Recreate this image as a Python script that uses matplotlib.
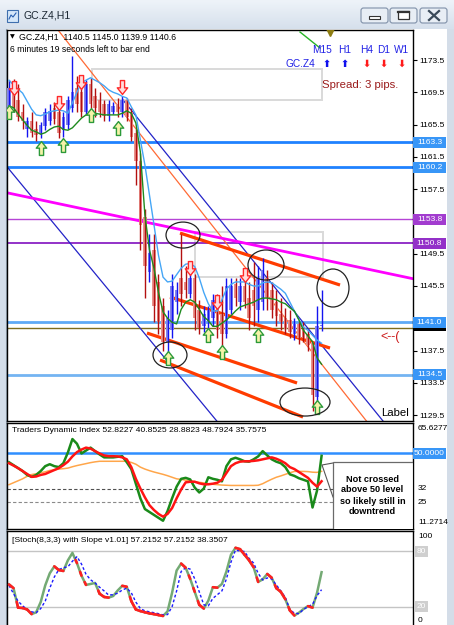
import numpy as np
import matplotlib
matplotlib.use('Agg')
import matplotlib.pyplot as plt
from matplotlib.patches import Rectangle, Ellipse, FancyBboxPatch
from matplotlib.path import Path
from matplotlib import transforms
from matplotlib.colors import LinearSegmentedColormap

plt.rcParams['font.family'] = ['Liberation Sans', 'DejaVu Sans']

# ---------------- data ----------------
opens = [1167.5, 1170.0, 1168.5, 1167.0, 1165.0, 1166.0, 1165.0, 1164.3, 1165.3, 1166.0,
         1167.5, 1167.0, 1164.8, 1165.5, 1167.5, 1170.0, 1169.5, 1167.0, 1170.5, 1169.0,
         1168.5, 1168.0, 1166.6, 1167.0, 1168.0, 1167.0, 1168.5, 1167.0, 1164.5, 1161.0,
         1154.0, 1147.2, 1150.0, 1146.0, 1143.0, 1138.5, 1140.0, 1143.5, 1146.5, 1146.0,
         1144.5, 1146.5, 1142.5, 1140.5, 1141.0, 1141.5, 1143.5, 1142.0, 1139.5, 1142.5,
         1145.8, 1143.5, 1145.5, 1144.0, 1145.0, 1142.5, 1143.5, 1146.5, 1145.0, 1143.5,
         1142.0, 1141.5, 1141.3, 1139.5, 1140.8, 1140.2, 1139.5, 1138.5, 1131.8, 1140.5]
highs = [1171.0, 1171.2, 1170.5, 1168.0, 1166.5, 1167.0, 1166.0, 1165.8, 1167.5, 1168.0,
         1168.3, 1168.0, 1167.0, 1169.0, 1174.0, 1171.5, 1171.0, 1171.0, 1171.3, 1170.0,
         1169.5, 1168.5, 1168.5, 1168.3, 1168.8, 1169.0, 1168.8, 1167.5, 1165.0, 1162.0,
         1155.0, 1152.0, 1152.0, 1147.0, 1144.0, 1142.5, 1147.0, 1146.0, 1152.0, 1148.0,
         1147.0, 1147.0, 1143.8, 1143.0, 1143.0, 1144.5, 1144.5, 1145.5, 1146.5, 1146.5,
         1146.5, 1146.5, 1146.0, 1146.0, 1148.5, 1148.0, 1149.0, 1147.5, 1146.0, 1145.0,
         1144.0, 1142.8, 1142.5, 1141.5, 1141.2, 1141.0, 1140.0, 1138.5, 1143.0, 1145.0]
lows = [1166.5, 1167.0, 1166.0, 1165.0, 1164.0, 1164.0, 1163.5, 1163.8, 1164.8, 1165.5,
        1165.6, 1163.8, 1164.0, 1165.0, 1167.0, 1167.0, 1166.5, 1166.8, 1167.5, 1166.5,
        1166.5, 1166.0, 1166.0, 1166.8, 1166.5, 1166.5, 1166.0, 1163.5, 1158.0, 1150.0,
        1144.0, 1146.0, 1141.0, 1139.5, 1137.5, 1137.2, 1139.0, 1142.0, 1143.0, 1144.0,
        1144.0, 1140.0, 1139.5, 1139.8, 1140.0, 1140.5, 1139.0, 1138.0, 1139.0, 1142.0,
        1143.0, 1142.5, 1142.8, 1140.0, 1140.5, 1141.0, 1142.5, 1142.5, 1141.5, 1140.5,
        1140.0, 1139.5, 1139.0, 1138.8, 1138.3, 1138.5, 1137.5, 1130.0, 1131.2, 1139.9]
closes = [1170.0, 1167.5, 1166.5, 1166.0, 1166.0, 1164.5, 1164.2, 1165.5, 1167.0, 1167.2,
          1166.2, 1164.5, 1166.5, 1168.5, 1169.5, 1168.0, 1167.0, 1170.5, 1168.0, 1167.5,
          1167.0, 1166.6, 1168.0, 1167.8, 1167.0, 1168.5, 1166.5, 1164.0, 1161.0, 1153.0,
          1148.0, 1149.6, 1143.0, 1141.0, 1138.5, 1141.5, 1145.5, 1145.0, 1144.5, 1145.0,
          1146.5, 1141.5, 1140.3, 1142.0, 1142.5, 1143.8, 1140.0, 1139.5, 1145.5, 1145.5,
          1144.0, 1145.5, 1143.5, 1141.5, 1143.0, 1146.5, 1147.5, 1144.0, 1142.5, 1141.8,
          1141.0, 1140.2, 1139.8, 1140.8, 1139.0, 1139.0, 1138.2, 1132.0, 1140.5, 1140.6]
ma_fast = [1171.0, 1170.4, 1169.9, 1169.4, 1168.4, 1167.4, 1166.7, 1166.6, 1166.8, 1167.1,
           1167.2, 1167.3, 1167.2, 1166.9, 1168.2, 1169.5, 1170.7, 1171.0, 1171.3, 1171.0,
           1170.7, 1170.3, 1169.8, 1169.5, 1169.3, 1169.0, 1168.8, 1167.7, 1166.7, 1163.6,
           1160.5, 1156.8, 1153.1, 1149.3, 1146.6, 1146.0, 1146.1, 1146.9, 1147.7, 1148.2,
           1148.3, 1147.9, 1146.5, 1144.7, 1143.3, 1142.4, 1142.4, 1143.8, 1145.1, 1145.7,
           1146.0, 1146.0, 1146.0, 1145.7, 1145.5, 1145.5, 1145.9, 1146.0, 1145.9, 1145.5,
           1145.1, 1144.6, 1143.5, 1142.4, 1141.3, 1140.4, 1140.0, 1139.4, 1138.8, 1138.4]
ma_slow = [1167.8, 1167.6, 1166.8, 1166.1, 1165.4, 1164.8, 1164.6, 1164.3, 1164.5, 1164.9,
           1165.2, 1165.3, 1164.9, 1164.8, 1165.1, 1165.7, 1166.3, 1166.7, 1166.8, 1166.9,
           1166.8, 1166.7, 1166.7, 1166.7, 1166.7, 1166.9, 1167.2, 1166.9, 1165.7, 1162.1,
           1154.3, 1150.0, 1147.7, 1144.7, 1142.3, 1141.5, 1141.0, 1140.8, 1142.6, 1143.5,
           1143.8, 1143.5, 1142.6, 1141.7, 1141.2, 1140.5, 1140.5, 1140.9, 1141.3, 1141.8,
           1142.4, 1142.9, 1143.1, 1143.3, 1143.5, 1143.8, 1144.0, 1144.0, 1143.9, 1143.8,
           1143.5, 1143.3, 1142.8, 1142.4, 1141.3, 1140.0, 1139.3, 1138.6, 1136.6, 1135.8]
tdi_rsi = [45.5, 44.0, 42.5, 41.0, 39.0, 38.0, 39.0, 41.0, 43.5, 44.5,
           43.5, 43.0, 45.0, 50.5, 57.4, 55.0, 50.0, 51.5, 53.0, 51.2,
           49.5, 48.0, 48.0, 48.0, 48.3, 48.6, 45.5, 42.0, 34.5, 27.0,
           21.5, 20.0, 18.5, 17.0, 15.5, 20.5, 27.0, 33.0, 37.0, 37.5,
           36.7, 32.5, 30.0, 32.0, 37.8, 37.0, 36.5, 35.7, 43.5, 47.0,
           47.8, 47.0, 46.0, 45.8, 47.0, 48.5, 51.2, 49.0, 47.0, 45.8,
           45.0, 43.0, 39.3, 38.5, 37.3, 36.5, 35.7, 22.3, 31.0, 48.79]
tdi_signal = [45.0, 43.8, 42.5, 41.0, 39.5, 38.0, 38.2, 39.0, 39.5, 40.5,
              41.5, 42.5, 44.0, 45.8, 48.5, 50.7, 52.0, 53.0, 52.5, 51.2,
              50.0, 49.0, 48.6, 48.6, 48.5, 48.0, 47.0, 43.0, 37.0, 32.0,
              27.5, 23.5, 21.0, 19.0, 17.6, 19.0, 22.0, 27.0, 31.5, 35.2,
              35.5, 35.5, 34.7, 34.2, 34.2, 34.5, 35.0, 36.5, 40.0, 43.5,
              45.0, 45.8, 46.0, 46.0, 46.2, 46.5, 47.0, 47.5, 48.0, 47.3,
              46.3, 45.0, 43.0, 42.0, 40.5, 39.0, 37.5, 35.0, 33.0, 35.76]
tdi_base = [34.0, 35.0, 36.0, 37.0, 38.3, 39.2, 39.6, 40.1, 40.6, 41.3,
            41.6, 42.0, 42.2, 42.5, 43.2, 43.8, 44.3, 44.8, 45.3, 45.7,
            46.0, 46.0, 46.0, 46.0, 46.0, 46.0, 46.0, 45.4, 44.5, 43.0,
            42.0, 41.2, 40.5, 39.9, 39.3, 38.6, 37.8, 37.0, 36.7, 36.3,
            35.9, 35.6, 35.2, 34.9, 34.5, 34.2, 34.0, 33.8, 33.7, 33.6,
            33.6, 33.6, 33.6, 33.6, 33.6, 33.7, 34.5, 35.7, 36.8, 37.8,
            38.5, 39.3, 40.1, 40.8, 40.8, 40.8, 40.7, 40.4, 40.3, 40.85]
stoch_main = [44.0, 40.0, 19.0, 18.6, 17.0, 12.0, 14.0, 25.0, 43.0, 56.0,
              63.5, 59.5, 58.5, 70.0, 78.0, 67.0, 53.5, 43.5, 44.5, 45.6,
              34.0, 30.5, 29.8, 31.5, 37.5, 42.5, 41.5, 26.0, 17.0, 15.3,
              14.0, 12.8, 12.0, 11.0, 10.0, 15.0, 35.0, 59.0, 66.5, 62.0,
              50.0, 36.0, 22.0, 18.0, 26.5, 41.0, 40.5, 44.5, 58.0, 76.0,
              83.5, 82.0, 76.0, 70.0, 62.5, 46.7, 49.5, 55.3, 51.2, 40.0,
              36.0, 28.0, 16.0, 10.5, 13.5, 17.5, 20.6, 19.0, 35.0, 57.2152]
stoch_signal = [43.0, 34.0, 26.0, 21.0, 17.0, 14.5, 13.5, 18.0, 26.0, 40.0,
                52.0, 60.0, 62.0, 63.0, 69.0, 74.0, 66.0, 55.0, 49.0, 45.6,
                41.0, 37.0, 32.5, 33.0, 34.5, 38.0, 40.0, 35.0, 25.0, 18.0,
                15.5, 14.5, 13.5, 12.5, 11.2, 11.5, 20.0, 37.0, 58.0, 62.0,
                60.5, 50.0, 36.0, 22.0, 21.0, 29.0, 33.0, 37.0, 50.0, 68.0,
                81.0, 80.0, 79.5, 72.0, 67.0, 56.0, 48.8, 51.0, 50.0, 43.5,
                37.0, 30.0, 17.0, 13.0, 12.5, 17.0, 20.2, 22.5, 32.0, 38.3507]

price_ticks = [1129.5, 1133.5, 1137.5, 1141.5, 1145.5, 1149.5, 1153.5, 1157.5,
               1161.5, 1165.5, 1169.5, 1173.5]
hidden_ticks = [1141.5, 1153.5]          # covered by level boxes in the reference
level_values = [1163.3, 1160.2, 1153.8, 1150.8, 1141.0, 1134.5]
level_colors = ['#1f82ff', '#1f82ff', '#b544d6', '#8a22c4', '#5ea9f6', '#74b4f2']
level_widths = [2.0, 2.0, 1.0, 1.3, 2.0, 2.0]
level_box_colors = ['#3896f7', '#3896f7', '#a23ccf', '#9330c8', '#3896f7', '#3896f7']
bid_price = 1140.6
bid_line_price = 1140.3

up_sig_idx = [0, 7, 12, 18, 24, 35, 44, 47, 55, 68]
up_sig_price = [1167.1, 1162.6, 1163.0, 1166.7, 1165.1, 1136.6, 1139.4, 1137.3, 1139.4, 1130.5]
dn_sig_idx = [1, 11, 16, 25, 40, 46, 52]
dn_sig_price = [1170.0, 1168.2, 1170.8, 1170.2, 1147.7, 1143.5, 1146.9]

magenta_x, magenta_y = [-0.44, 89.18], [1157.05, 1146.4]
blue_up_x, blue_up_y = [25.17, 84.1], [1168.54, 1127.7]
blue_lo_x, blue_lo_y = [-0.44, 47.0], [1160.27, 1128.0]
orange_x, orange_y = [10.82, 80.0], [1177.22, 1127.99]
chan_x0 = [37.75, 35.54, 30.46, 33.33]
chan_y0 = [1152.06, 1144.13, 1139.67, 1136.33]
chan_x1 = [73.07, 70.86, 63.58, 64.9]
chan_y1 = [1145.62, 1137.81, 1133.48, 1129.26]
ell_cx = [38.41, 35.54, 56.73, 71.52, 65.34]
ell_cy = [1151.81, 1136.95, 1148.1, 1145.25, 1131.12]
ell_w = [7.5, 7.5, 7.95, 7.06, 11.04]
ell_h = [3.22, 3.22, 3.72, 4.71, 3.47]
rect_x0 = [18.32, 41.06]
rect_x1 = [69.1, 69.3]
rect_y0 = [1168.54, 1146.61]
rect_y1 = [1172.38, 1152.19]
green_seg_x, green_seg_y = [64.24, 68.65], [1176.97, 1174.99]
olive_tri_x, olive_tri_y = [70.86], [1176.97]

tf_labels = ['M15', 'H1', 'H4', 'D1', 'W1']
tf_up = [True, True, False, False, False]

N = len(closes)
idx = np.arange(N)
W, H = 454, 625


def fbox(x0, y0, x1, y1):
    return [x0 / W, 1 - y1 / H, (x1 - x0) / W, (y1 - y0) / H]


fig = plt.figure(figsize=(W / 100, H / 100), dpi=100)
fig.patch.set_facecolor('#d3dde9')

# ---------------- window chrome ----------------
bg = fig.add_axes([0, 0, 1, 1])
bg.axis('off')
cmap = LinearSegmentedColormap.from_list('t', ['#eef3f9', '#d6e0ec'])
bg.imshow(np.linspace(0, 1, 30).reshape(-1, 1), extent=(0, W, 29, 0), cmap=cmap,
          aspect='auto', zorder=0)
bg.set_xlim(0, W)
bg.set_ylim(H, 0)
P = bg.transData
bg.add_patch(Rectangle((7, 10), 11, 12, fc='#d6e8fa', ec='#3f6fae', lw=0.8))
bg.plot([9, 11, 13, 16], [19, 15, 17, 13], color='#2a60b0', lw=0.8)
bg.text(23, 16, 'GC.Z4,H1', fontsize=7.6, color='#1b2733', va='center', ha='left')
for bx in (361, 390, 420):
    bg.add_patch(FancyBboxPatch((bx, 8), 27, 15, boxstyle='round,pad=0,rounding_size=2.5',
                                fc='#e8eef5', ec='#7f90a8', lw=0.8))
bg.add_patch(Rectangle((369, 15.5), 11, 3, fc='white', ec='#333333', lw=0.8))
bg.add_patch(Rectangle((398, 11), 11, 8, fc='white', ec='#333333', lw=0.9))
bg.plot([398, 409], [12, 12], color='#333333', lw=1.6)
bg.plot([429, 439], [11, 20], color='#3a4a5a', lw=1.6)
bg.plot([429, 439], [20, 11], color='#3a4a5a', lw=1.6)
bg.add_patch(Rectangle((7, 29), 440, 596, fc='white', ec='none'))
bg.add_patch(Rectangle((447, 29), 7, 596, fc='#d4dde8', ec='none'))
bg.plot([6, 6], [29, 625], color='#9aa8b8', lw=0.8)

# ---------------- main price panel ----------------
ax = fig.add_axes(fbox(7, 30, 413, 421))
ax.set_xlim(-0.44, 89.18)
ax.set_ylim(1128.77, 1177.22)
ax.set_facecolor('white')
for s in ax.spines.values():
    s.set_color('black')
    s.set_linewidth(1.0)
ax.set_xticks([])
ax.yaxis.tick_right()
ax.set_yticks(price_ticks)
ax.set_yticklabels(['' if v in hidden_ticks else f'{v:.1f}' for v in price_ticks], fontsize=6.0)
ax.tick_params(axis='y', length=3, width=0.8, pad=1.5, colors='black')

for r0, r1, q0, q1 in zip(rect_x0, rect_x1, rect_y0, rect_y1):
    ax.add_patch(Rectangle((r0, q0), r1 - r0, q1 - q0, fc='none', ec='#d9d9d9', lw=1.4, zorder=1))

for v, col, lw in zip(level_values, level_colors, level_widths):
    ax.axhline(v, color=col, lw=lw, zorder=2)
ax.axhline(bid_line_price, color='#7d6c1e', lw=1.0, zorder=2)

ax.plot(blue_up_x, blue_up_y, color='#2323c8', lw=0.9, zorder=2)
ax.plot(blue_lo_x, blue_lo_y, color='#2323c8', lw=0.9, zorder=2)
ax.plot(orange_x, orange_y, color='#ff6a35', lw=0.9, zorder=2)
ax.plot(magenta_x, magenta_y, color='#ff00ff', lw=2.0, zorder=2)
for a, b, c_, d in zip(chan_x0, chan_y0, chan_x1, chan_y1):
    ax.plot([a, c_], [b, d], color='#ff3c00', lw=2.3, zorder=3, solid_capstyle='butt')

o = np.array(opens); c = np.array(closes); hi = np.array(highs); lo = np.array(lows)
bull = c >= o
body_col = np.where(bull, '#8585ec', '#e9928c')
wick_col = np.where(bull, '#1414f0', '#b31010')
ax.bar(idx, np.maximum(np.abs(c - o), 0.15), bottom=np.minimum(o, c), width=0.78,
       color=body_col, zorder=4)
ax.vlines(idx, lo, hi, colors=wick_col, lw=1.0, zorder=5)

ax.plot(idx, ma_fast, color='#45a6f6', lw=1.0, zorder=6)
ax.plot(idx, ma_slow, color='#1e8a1e', lw=1.0, zorder=6)

up_path = Path([(-0.3, -1), (0.3, -1), (0.3, 0.05), (0.75, 0.05), (0, 1),
                (-0.75, 0.05), (-0.3, 0.05), (-0.3, -1)], closed=True)
dn_path = Path([(x, -y) for x, y in up_path.vertices], closed=True)
ax.plot(up_sig_idx, up_sig_price, ls='none', marker=up_path, ms=10, mfc='#f5f3a8',
        mec='#2d9a3a', mew=1.0, zorder=7)
ax.plot(dn_sig_idx, dn_sig_price, ls='none', marker=dn_path, ms=10, mfc='#ffdede',
        mec='#ff2a2a', mew=1.0, zorder=7)

for cx, cy, w, h in zip(ell_cx, ell_cy, ell_w, ell_h):
    ax.add_patch(Ellipse((cx, cy), w, h, fc='none', ec='#222222', lw=0.9, zorder=8))

ax.plot(green_seg_x, green_seg_y, color='#28b428', lw=1.0, zorder=6, clip_on=False)
ax.plot(olive_tri_x, olive_tri_y, ls='none', marker='v', ms=5.5, color='#8d7c12', zorder=6)

# header texts
ax.text(9.5, 37, '\u25bc', transform=P, fontsize=4.5, va='center', ha='left', zorder=9,
        family='DejaVu Sans')
ax.text(19, 37, 'GC.Z4,H1  1140.5 1145.0 1139.9 1140.6', transform=P, fontsize=6.3,
        va='center', ha='left', zorder=9)
ax.text(10, 49, '6 minutes 19 seconds left to bar end', transform=P, fontsize=6.2,
        va='center', ha='left', zorder=9)
tf_x = [322, 345, 367, 384, 402]
for lab, x, up in zip(tf_labels, tf_x, tf_up):
    ax.text(x, 50, lab, transform=P, fontsize=7.3, color='#2222e6', ha='center', va='center', zorder=9)
    ax.text(x + (5 if lab == 'M15' else 0), 64, '\u2B06' if up else '\u2B07', transform=P,
            fontsize=7, color='#1010ee' if up else '#ff1a1a', ha='center', va='center',
            family='DejaVu Sans', zorder=9, fontweight='bold')
ax.text(285, 64, 'GC.Z4', transform=P, fontsize=7.3, color='#2222e6', ha='left', va='center', zorder=9)
ax.text(322, 85, 'Spread: 3 pips.', transform=P, fontsize=8.2, color='#9b1c1c', ha='left',
        va='center', zorder=9)
ax.text(380, 337, '<--(', transform=P, fontsize=9, color='#cc1a1a', ha='left', va='center',
        zorder=9, clip_on=True)
ax.text(381, 413, 'Label', transform=P, fontsize=8.2, color='black', ha='left', va='center', zorder=9)

bt = transforms.blended_transform_factory(ax.transAxes, ax.transData)
box_w = 33 / 406
box_h = 11 / 8.07


def price_box(a, val, fc, txt):
    a.add_patch(Rectangle((1.0, val - box_h / 2), box_w, box_h, transform=bt, fc=fc,
                          ec='none', clip_on=False, zorder=20))
    if txt:
        a.text(1.0 + box_w / 2, val, txt, transform=bt, ha='center', va='center', color='white',
               fontsize=6.0, clip_on=False, zorder=21)


price_box(ax, bid_price, 'black', '')
for v, fc in zip(level_values, level_box_colors):
    price_box(ax, v, fc, f'{v:.1f}')

# ---------------- TDI panel ----------------
td = fig.add_axes(fbox(7, 423, 413, 529))
td.set_xlim(-0.44, 89.18)
td.set_ylim(11.2714, 65.6277)
td.set_xticks([]); td.set_yticks([])
for s in td.spines.values():
    s.set_color('black'); s.set_linewidth(1.0)
td.axhline(50, color='#2f8fff', lw=1.8, zorder=1)
td.axhline(32, color='#505050', lw=0.8, ls=(0, (3, 2)), zorder=1)
td.axhline(25, color='#8a8a8a', lw=0.8, ls=(0, (3, 2)), zorder=1)
td.plot(idx, tdi_base, color='#ffa64a', lw=1.1, zorder=2)
td.plot(idx, tdi_rsi, color='#1a8a1a', lw=1.8, zorder=3)
td.plot(idx, tdi_signal, color='#ff1414', lw=1.8, zorder=4)
td.text(12, 431, 'Traders Dynamic Index 52.8227 40.8525 28.8823 48.7924 35.7575',
        transform=P, fontsize=6.1, ha='left', va='center', zorder=9)
btd = transforms.blended_transform_factory(td.transAxes, td.transData)
td.add_patch(Rectangle((1.0, 50 - 5.5 / 1.95), box_w, 11 / 1.95, transform=btd, fc='#3896f7',
                       ec='none', clip_on=False, zorder=20))
td.text(1.0 + box_w / 2, 50, '50.0000', transform=btd, ha='center', va='center', color='white',
        fontsize=6.0, clip_on=False, zorder=21)
for yy, t in [(429, '65.6277'), (489, '32'), (503, '25'), (522, '11.2714')]:
    td.text(418, yy, t, transform=P, fontsize=6.0, ha='left', va='center', clip_on=False, zorder=21)
# callout
td.plot([333, 322, 333], [463, 465, 497], transform=P, color='#555555', lw=0.8, zorder=10)
td.add_patch(Rectangle((333, 462), 80, 70, transform=P, fc='white', ec='#6a6a6a', lw=0.9, zorder=11))
for yy, t in [(479, 'Not crossed'), (490, 'above 50 level'), (501, 'so likely still in'),
              (512, 'downtrend')]:
    td.text(372.5, yy, t, transform=P, fontsize=6.6, fontweight='bold', ha='center',
            va='center', zorder=12)

# ---------------- Stochastic panel ----------------
st = fig.add_axes(fbox(7, 531, 413, 626))
st.set_xlim(-0.44, 89.18)
st.set_ylim(-0.8, 101.6)
st.set_xticks([]); st.set_yticks([])
for s in st.spines.values():
    s.set_color('black'); s.set_linewidth(1.0)
st.axhline(80, color='#c4c4c4', lw=1.0, zorder=1)
st.axhline(20, color='#c4c4c4', lw=1.0, zorder=1)
st.plot(idx, stoch_signal, color='#1a1aff', lw=1.0, ls=(0, (2, 1.6)), zorder=3)
m = np.array(stoch_main)
st.plot(idx, m, color='#74aa74', lw=1.8, zorder=2)
for i in range(1, N):
    if m[i] < m[i - 1]:
        t0 = i - 1 if (m[i - 1] - m[i]) < 10 else i - 0.3
        ts = np.array([t0, i])
        st.plot(ts, np.interp(ts, idx, m), color='#ff2020', lw=1.9, zorder=4,
                solid_capstyle='round')
st.text(12, 540, '[Stoch(8,3,3) with Slope v1.01] 57.2152 57.2152 38.3507', transform=P,
        fontsize=6.1, ha='left', va='center', zorder=9)
bst = transforms.blended_transform_factory(st.transAxes, st.transData)
for v in (80, 20):
    st.add_patch(Rectangle((1.0035, v - 5.5 / 0.928), 14 / 406, 11 / 0.928, transform=bst,
                           fc='#cfcfcf', ec='none', clip_on=False, zorder=20))
    st.text(1.0035 + 7 / 406, v, str(v), transform=bst, ha='center', va='center', color='white',
            fontsize=6.0, clip_on=False, zorder=21)
for yy, t in [(537, '100'), (620, '0')]:
    st.text(418, yy, t, transform=P, fontsize=6.0, ha='left', va='center', clip_on=False, zorder=21)

fig.savefig('out.png', dpi=100, facecolor=fig.get_facecolor())
